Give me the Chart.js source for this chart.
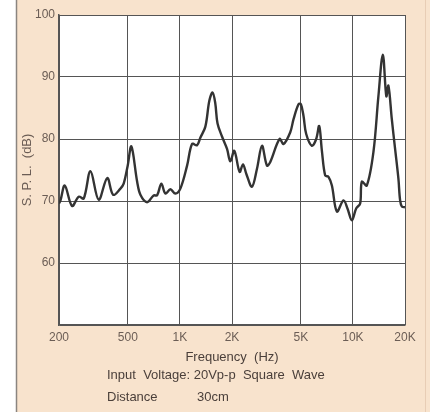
<!DOCTYPE html>
<html>
<head>
<meta charset="utf-8">
<script src="https://cdn.jsdelivr.net/npm/chart.js@4/dist/chart.umd.min.js"></script>
<style>
  body { margin: 0; background: #fff; }
  #wrap { position: relative; width: 430px; height: 412px; }
  .note { position: absolute; font: 13px "Liberation Sans", Arial, sans-serif; color: #4a3f3a; white-space: pre; }
</style>
</head>
<body>
<div id="wrap">
  <canvas id="spl" width="430" height="412"></canvas>
  <div class="note" style="left:107px; top:367px;">Input  Voltage: 20Vp-p  Square  Wave</div>
  <div class="note" style="left:107px; top:389px;">Distance</div>
  <div class="note" style="left:197px; top:389px;">30cm</div>
</div>
<script>
const freqs = [200, 204, 216, 238, 260, 278, 304, 339, 380, 411, 453, 473, 499, 524, 566, 591, 646, 705, 738, 781, 824, 881, 941, 1006,
  1100, 1175, 1256, 1312, 1403, 1480, 1545, 1600, 1650, 1751, 1872, 1955, 2062, 2213, 2315, 2418, 2609, 2789, 2980, 3185, 3329,
  3766, 3972, 4343, 4537, 4848, 5004, 5181, 5370, 5795, 6134, 6383, 6617, 6914, 7224, 7558, 8076, 8820, 9300, 9860, 10440,
  11010, 11260, 12030, 13140, 14040, 14890, 15600, 16040, 16780, 17530, 18320, 18740, 19200, 20000];
const spl = [69.6, 70.1, 72.5, 69.2, 70.7, 70.4, 74.8, 70.2, 73.7, 71.0, 72.0, 72.8, 75.7, 78.8, 73.1, 71.0, 69.8, 70.9, 70.9, 72.8, 71.2, 71.9, 71.2, 72.0,
  75.7, 79.2, 79.0, 80.2, 82.0, 86.2, 87.5, 85.8, 82.5, 80.4, 78.4, 76.4, 78.1, 74.7, 75.9, 74.4, 72.3, 75.2, 78.9, 75.7, 76.3,
  80.0, 79.2, 81.1, 83.2, 85.6, 85.6, 83.7, 80.8, 78.9, 80.0, 82.1, 78.1, 74.1, 73.9, 72.5, 68.3, 70.1, 68.8, 66.9, 68.8,
  69.6, 73.1, 72.5, 77.9, 86.9, 93.6, 86.9, 88.6, 83.2, 78.4, 73.6, 70.1, 69.1, 69.0];
const tickValues = [200, 500, 1000, 2000, 5000, 10000, 20000];
const tickLabels = ['200', '500', '1K', '2K', '5K', '10K', '20K'];

const textColor = '#6b5d55';
const gridColor = '#555';

const bgPlugin = {
  id: 'paper',
  beforeDraw(chart) {
    const ctx = chart.ctx;
    const a = chart.chartArea;
    ctx.save();
    ctx.fillStyle = '#fff';
    ctx.fillRect(0, 0, chart.width, chart.height);
    ctx.fillStyle = '#f8e3cd';
    ctx.fillRect(16, 0, chart.width - 16, chart.height);
    ctx.strokeStyle = '#8a8580';
    ctx.lineWidth = 1.5;
    ctx.beginPath(); ctx.moveTo(16.5, 0); ctx.lineTo(16.5, chart.height); ctx.stroke();
    ctx.strokeStyle = '#e8cdb5';
    ctx.lineWidth = 1;
    ctx.beginPath(); ctx.moveTo(425.5, 0); ctx.lineTo(425.5, chart.height); ctx.stroke();
    ctx.fillStyle = '#fff';
    ctx.fillRect(a.left, a.top, a.right - a.left, a.bottom - a.top);
    ctx.restore();
  }
};

new Chart(document.getElementById('spl'), {
  type: 'line',
  data: {
    datasets: [{
      data: freqs.map((f, i) => ({ x: f, y: spl[i] })),
      borderColor: '#333',
      borderWidth: 2.4,
      pointRadius: 0,
      tension: 0.35,
      fill: false
    }]
  },
  options: {
    responsive: false,
    animation: false,
    layout: { padding: { top: 15, right: 25, bottom: 47, left: 0 } },
    plugins: { legend: { display: false }, tooltip: { enabled: false } },
    scales: {
      x: {
        type: 'logarithmic',
        min: 200,
        max: 20000,
        afterBuildTicks: s => { s.ticks = tickValues.map(v => ({ value: v })); },
        afterFit: s => { s.height = 40; },
        ticks: {
          autoSkip: false,
          maxRotation: 0,
          padding: 5,
          color: textColor,
          font: { family: '"Liberation Sans", Arial, sans-serif', size: 12 },
          callback: v => tickLabels[tickValues.indexOf(v)] ?? ''
        },
        grid: { color: gridColor, lineWidth: 1, drawTicks: false },
        border: { color: gridColor, width: 1.5 },
        title: {
          display: true,
          text: 'Frequency  (Hz)',
          color: '#4a3f3a',
          padding: { top: 0, bottom: 0 },
          font: { family: '"Liberation Sans", Arial, sans-serif', size: 13 }
        }
      },
      y: {
        min: 50,
        max: 100,
        afterFit: s => { s.width = 59; },
        ticks: {
          stepSize: 10,
          padding: 4,
          color: textColor,
          font: { family: '"Liberation Sans", Arial, sans-serif', size: 12 },
          callback: v => (v === 50 ? '' : v)
        },
        grid: { color: gridColor, lineWidth: 1, drawTicks: false },
        border: { color: gridColor, width: 1.5 },
        title: {
          display: true,
          text: 'S. P. L.  (dB)',
          color: textColor,
          padding: { top: 20, bottom: 0 },
          font: { family: '"Liberation Sans", Arial, sans-serif', size: 13 }
        }
      }
    }
  },
  plugins: [bgPlugin]
});
</script>
</body>
</html>
